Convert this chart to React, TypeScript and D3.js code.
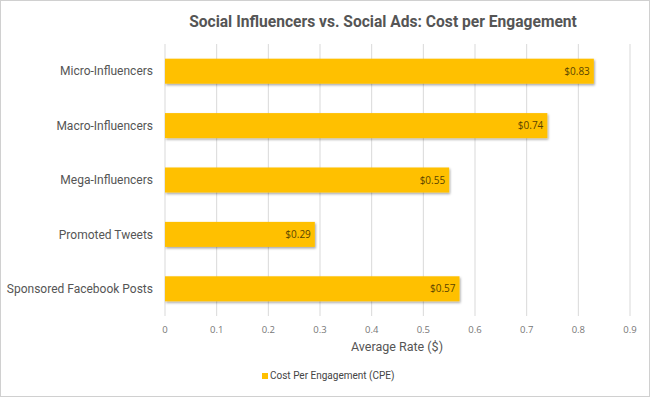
import React, { useEffect, useRef } from 'react';
import * as d3 from 'd3';

const categories = ['Micro-Influencers', 'Macro-Influencers', 'Mega-Influencers', 'Promoted Tweets', 'Sponsored Facebook Posts'];
const values = [0.83, 0.74, 0.55, 0.29, 0.57];
const xTicks = [0, 0.1, 0.2, 0.3, 0.4, 0.5, 0.6, 0.7, 0.8, 0.9];
const title = 'Social Influencers vs. Social Ads: Cost per Engagement';
const xTitle = 'Average Rate ($)';
const seriesName = 'Cost Per Engagement (CPE)';

const App = () => {
  const ref = useRef<SVGSVGElement>(null);
  const width = 650;
  const height = 397;

  useEffect(() => {
    if (!ref.current) return;
    const svg = d3.select(ref.current);
    svg.selectAll('*').remove();
    const margin = { top: 44, right: 20, bottom: 81, left: 165 };
    const font = 'Roboto, sans-serif';
    const barColor = '#ffc000';

    svg.append('rect')
      .attr('x', 0.5).attr('y', 0.5)
      .attr('width', width - 1).attr('height', height - 1)
      .attr('fill', '#fff').attr('stroke', '#d0d0d0');

    const defs = svg.append('defs');
    const f = defs.append('filter').attr('id', 'shadow')
      .attr('x', '-5%').attr('y', '-20%').attr('width', '110%').attr('height', '160%');
    f.append('feDropShadow')
      .attr('dx', 1).attr('dy', 1.5).attr('stdDeviation', 1)
      .attr('flood-color', '#000').attr('flood-opacity', 0.35);

    const x = d3.scaleLinear().domain([0, 0.9]).range([margin.left, width - margin.right]);
    const y = d3.scaleBand().domain(categories)
      .range([margin.top, height - margin.bottom])
      .paddingInner(0.54).paddingOuter(0.27);

    // gridlines
    svg.append('g').selectAll('line').data(xTicks).join('line')
      .attr('x1', d => x(d)).attr('x2', d => x(d))
      .attr('y1', margin.top).attr('y2', height - margin.bottom)
      .attr('stroke', '#d9d9d9').attr('stroke-width', 1);

    // bars
    svg.append('g').selectAll('rect').data(values).join('rect')
      .attr('x', x(0))
      .attr('y', (d, i) => y(categories[i]) as number)
      .attr('width', d => x(d) - x(0))
      .attr('height', y.bandwidth())
      .attr('fill', barColor)
      .attr('filter', 'url(#shadow)');

    // value labels
    svg.append('g').selectAll('text').data(values).join('text')
      .attr('x', d => x(d) - 4)
      .attr('y', (d, i) => (y(categories[i]) as number) + y.bandwidth() / 2)
      .attr('dy', '0.35em')
      .attr('text-anchor', 'end')
      .attr('font-family', 'Open Sans, sans-serif')
      .attr('font-size', 10)
      .attr('fill', '#5a4400')
      .text(d => '$' + d3.format('.2f')(d));

    // category labels
    svg.append('g').selectAll('text').data(categories).join('text')
      .attr('x', 153)
      .attr('y', d => (y(d) as number) + y.bandwidth() / 2)
      .attr('dy', '0.35em')
      .attr('text-anchor', 'end')
      .attr('font-family', font)
      .attr('font-size', 12)
      .attr('fill', '#555')
      .text(d => d);

    // x tick labels
    svg.append('g').selectAll('text').data(xTicks).join('text')
      .attr('x', d => x(d))
      .attr('y', 333)
      .attr('text-anchor', 'middle')
      .attr('font-family', 'Open Sans, sans-serif')
      .attr('font-size', 9.5)
      .attr('fill', '#777')
      .text(d => String(d));

    svg.append('text')
      .attr('x', 397).attr('y', 351)
      .attr('text-anchor', 'middle')
      .attr('font-family', font).attr('font-size', 12.5).attr('fill', '#555')
      .text(xTitle);

    svg.append('text')
      .attr('x', 383).attr('y', 27)
      .attr('text-anchor', 'middle')
      .attr('font-family', font).attr('font-weight', 'bold')
      .attr('font-size', 15.6).attr('fill', '#555')
      .text(title);

    // legend
    const lg = svg.append('g').attr('transform', 'translate(262,379)');
    lg.append('rect').attr('x', 0).attr('y', -6).attr('width', 6).attr('height', 6).attr('fill', barColor);
    lg.append('text').attr('x', 8).attr('y', 0)
      .attr('font-family', font).attr('font-size', 10).attr('fill', '#444')
      .text(seriesName);
  }, []);

  return <svg ref={ref} width={width} height={height} style={{ position: 'absolute', left: 0, top: 0 }} />;
};

export default App;
